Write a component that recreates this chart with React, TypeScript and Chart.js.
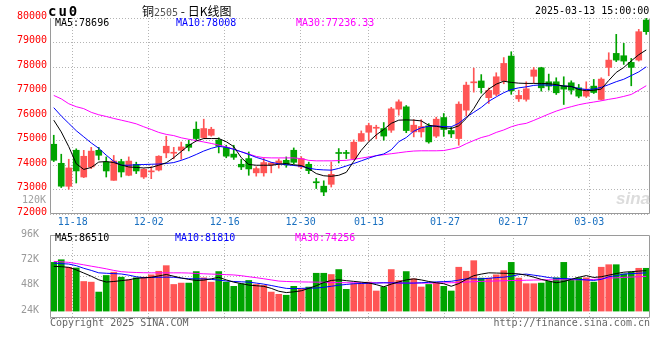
import React, { useEffect, useRef } from "react";
import { Chart, registerables } from "chart.js";

Chart.register(...registerables);

// ---------------- data ----------------
const dates = [
  "11-13","11-14","11-15","11-18","11-19","11-20","11-21","11-22","11-25","11-26",
  "11-27","11-28","11-29","12-02","12-03","12-04","12-05","12-06","12-09","12-10",
  "12-11","12-12","12-13","12-16","12-17","12-18","12-19","12-20","12-23","12-24",
  "12-25","12-26","12-27","12-30","12-31","01-02","01-03","01-06","01-07","01-08",
  "01-09","01-10","01-13","01-14","01-15","01-16","01-17","01-20","01-21","01-22",
  "01-23","01-24","01-27","02-05","02-06","02-07","02-10","02-11","02-12","02-13",
  "02-14","02-17","02-18","02-19","02-20","02-21","02-24","02-25","02-26","02-27",
  "02-28","03-03","03-04","03-05","03-06","03-07","03-10","03-11","03-12","03-13",
];
const tickDates = ["11-18","12-02","12-16","12-30","01-13","01-27","02-17","03-03"];

const opens = [
  74847,74070,73130,74602,73510,73920,74600,74124,73374,74140,
  73580,74025,73510,73720,73795,74493,74480,74602,74847,75460,
  75120,75215,75020,74711,74445,74030,74262,73680,73680,74000,
  74056,74192,74602,73920,74030,73300,73135,73212,74490,74490,
  74262,74970,75337,75500,75488,75420,76279,76374,75351,75352,
  75600,75180,75938,75406,75080,76238,77355,77431,76749,76885,
  77430,78446,76700,76681,77620,77969,77397,77397,77219,77356,
  77151,76810,77219,76674,77983,78555,78460,78187,78282,79918,
];
const highs = [
  75215,74440,74235,74660,74600,74720,74720,74330,74390,74234,
  74330,74115,73850,73940,74380,75175,74720,74935,75015,75760,
  75870,75540,75110,74806,74806,74228,74533,73928,74290,74110,
  74248,74330,74697,74343,74117,73458,73355,74124,74670,74600,
  75024,75392,75706,75624,75733,76354,76660,76428,75856,75850,
  75690,75952,76102,75543,76579,77383,77955,77690,77145,77765,
  78385,78623,77055,77396,77983,77990,77710,77560,77601,77437,
  77288,77397,77492,77560,78582,79332,78964,78351,79536,79990,
];
const lows = [
  74140,73080,73010,73265,73484,73852,74210,73510,73374,73510,
  73560,73650,73450,73442,73757,74295,74250,74234,74575,75011,
  75079,75175,74492,74295,74227,73812,73580,73545,73545,73680,
  73873,73907,74050,73852,73646,73040,72747,73100,74083,74262,
  74213,74970,74984,75065,75010,75331,76033,75318,75147,75140,
  74890,75120,75168,75120,74807,76000,76974,76933,76510,76830,
  77315,76885,76592,76606,77356,77015,77056,76879,76470,76892,
  76742,76756,76919,76647,77642,78220,78105,77233,78242,79332,
];
const closes = [
  74193,73135,73880,73757,74356,74567,74397,73756,74165,73715,
  74160,73756,73825,73750,74357,74766,74510,74737,74720,75080,
  75488,75460,74766,74363,74317,73920,73840,73852,74100,74083,
  74165,74010,74110,74262,73770,73275,72897,73620,74470,74470,
  74930,75284,75610,75516,75181,76293,76578,75406,75625,75570,
  74943,75870,75450,75270,76483,77260,77380,77158,77042,77601,
  78146,77028,76840,77110,77880,77151,77219,76947,77097,77056,
  76810,77097,76960,77506,78282,78282,78242,77983,79441,79441,
];
const ma5 = [
  75830,75350,74750,74050,73820,73900,74120,74140,74100,74000,
  73920,73900,73880,73900,73990,74090,74300,74550,74800,74980,
  75080,75080,75080,74950,74750,74300,74020,73990,73990,73990,
  74030,74060,74010,73980,73850,73650,73560,73540,73580,73700,
  74150,74600,74950,75230,75450,75700,75830,75840,75830,75800,
  75620,75580,75520,75490,75600,75900,76300,76800,77100,77300,
  77420,77370,77340,77330,77330,77330,77320,77280,77220,77210,
  77080,77030,77050,77100,77450,77780,77980,78250,78500,78696,
];
const ma10 = [
  76340,76000,75700,75400,75150,74900,74680,74400,74150,73990,
  73990,74010,74020,74030,74040,74060,74100,74190,74300,74430,
  74570,74680,74760,74720,74640,74540,74430,74310,74220,74110,
  74050,74010,73980,73950,73870,73820,73800,73790,73860,73960,
  74060,74170,74280,74380,74450,74620,74950,75120,75380,75520,
  75580,75590,75570,75560,75700,75950,76150,76350,76600,76780,
  76950,77080,77150,77190,77250,77270,77260,77250,77230,77200,
  77120,77080,77100,77170,77280,77400,77500,77650,77800,78008,
];
const ma30 = [
  76840,76700,76500,76380,76300,76150,76050,75980,75900,75830,
  75760,75680,75560,75450,75330,75250,75200,75110,75050,75000,
  74940,74880,74810,74740,74650,74540,74450,74350,74300,74290,
  74290,74290,74290,74260,74190,74170,74170,74170,74180,74190,
  74230,74280,74330,74380,74420,74460,74500,74540,74570,74580,
  74580,74580,74590,74650,74720,74870,75000,75120,75200,75330,
  75430,75560,75650,75700,75820,75950,76080,76200,76300,76380,
  76460,76520,76570,76620,76680,76730,76800,76880,77050,77236,
];
const volumes = [
  70100,72600,65400,64800,52000,51400,42000,57700,60800,56100,
  53600,55500,56100,58300,61700,67000,49200,50500,50500,61400,
  55500,51400,61400,51400,47400,49900,53000,49200,48300,42000,
  39900,39000,47400,45200,46700,59800,59800,58600,63300,44600,
  49900,49900,51400,43000,46800,63300,53000,61400,54500,46800,
  49200,50800,47400,43000,65500,61700,71700,55200,55200,58300,
  62300,70100,55200,49900,49900,50500,52100,55500,70100,53600,
  55500,55500,51400,65500,67900,67900,59200,60800,64500,64500,
];
const volMa5 = [
  66300,66000,65400,63000,60000,57000,53600,51500,52000,52800,
  53600,55000,55500,56000,57300,58600,57000,55300,54000,53000,
  53300,54500,56000,53500,51400,50000,48600,48000,47400,45500,
  42800,41500,42200,43200,45500,48000,51000,53000,53600,52800,
  52100,51400,50700,49000,47000,49500,51600,53500,54500,53500,
  52000,50800,49900,47500,50000,54000,57500,59000,60200,60000,
  59800,59600,59200,58000,56100,54000,52500,50800,52000,54000,
  56000,57600,55800,56500,58000,59500,60800,61300,61800,62300,
];
const volMa10 = [
  69400,68900,68500,67000,64500,62500,60200,59800,59500,59100,
  58000,56500,55600,55800,56000,56100,56000,55200,54600,54500,
  54500,54000,53300,52500,52000,51700,51400,50500,49500,48200,
  46800,45500,45200,45500,45700,45800,46500,47500,48500,49200,
  49900,50100,50300,50500,50800,50700,50600,50500,50500,50800,
  51200,51600,51900,52200,53300,54500,54500,54500,55000,55700,
  56100,57000,58500,59000,58000,57000,55700,55000,54800,54500,
  54000,53500,53000,54000,56500,57500,59000,59500,59800,60200,
];
const volMa30 = [
  71000,70600,70100,69000,67800,66500,65300,64000,62500,61300,
  60800,60500,60300,60200,60200,60200,60200,60200,60000,59600,
  59300,59000,58800,58500,58200,57500,56500,55600,54600,53500,
  52400,52000,51800,51600,51500,51400,51300,51000,50900,50800,
  50800,50800,50800,50800,50800,50700,50600,50500,50500,50500,
  50500,50600,50700,50800,51000,51500,51800,52100,52300,52500,
  52700,52900,53000,53200,53400,53500,53600,53600,53600,53600,
  53600,53600,54000,54500,55200,55500,55900,56200,56500,56800,
];
const priceMin = 72000;
const priceMax = 80000;
const priceStep = 1000;
const volTickValues = [24000, 48000, 72000, 96000];
const volBase = 24000;
const volTop = 96000;
const volBottom = 17455;

// ---------------- styles ----------------
const RED = "#ff5555";
const GREEN = "#00a300";
const GRID = "#b4b4b4";
const FRAME = "#9a9a9a";
const BLUE_TXT = "#1a70c0";
const MONO = '"DejaVu Sans Mono", "Liberation Mono", monospace';

const N = dates.length;
const labelIdx = tickDates.map((d) => dates.indexOf(d));
const slotX = (i: number) => i + 0.5;
// Sina puts its date grid on an (N-1)-step ruler while candles fill N slots
const tickX = (k: number) => (k * N) / (N - 1);

const isUp = (i: number) => closes[i] >= opens[i];
const candleColors = closes.map((_, i) => (isUp(i) ? RED : GREEN));

const framePlugin = {
  id: "frame",
  afterDatasetsDraw(chart: any, _args: any, opts: any) {
    const { ctx, chartArea: a } = chart;
    const l = Math.round(a.left) + 0.5;
    const r = Math.round(a.right) - 0.5;
    const t = Math.round(a.top) + 0.5;
    const b = Math.round(a.bottom) - 0.5;
    ctx.save();
    ctx.strokeStyle = opts.color || FRAME;
    ctx.lineWidth = 1;
    ctx.beginPath();
    const sides: string[] = opts.sides || [];
    if (sides.includes("left")) { ctx.moveTo(l, t); ctx.lineTo(l, b); }
    if (sides.includes("right")) { ctx.moveTo(r, t); ctx.lineTo(r, b); }
    if (sides.includes("top")) { ctx.moveTo(l, t); ctx.lineTo(r, t); }
    if (sides.includes("bottom")) { ctx.moveTo(l, b); ctx.lineTo(r, b); }
    ctx.stroke();
    ctx.restore();
  },
};

function xScale(showLabels: boolean) {
  return {
    type: "linear",
    min: 0,
    max: N,
    offset: false,
    afterBuildTicks: (s: any) => {
      s.ticks = labelIdx.map((k) => ({ value: tickX(k) }));
    },
    afterFit: (s: any) => {
      s.height = showLabels ? 18 : 0;
    },
    grid: { color: GRID, drawTicks: false, offset: false, lineWidth: 1 },
    border: { display: false, dash: [1, 2] },
    ticks: {
      display: showLabels,
      autoSkip: false,
      maxRotation: 0,
      padding: 2,
      color: BLUE_TXT,
      font: { family: MONO, size: 10 },
      callback: (_v: any, idx: number) => dates[labelIdx[idx]],
    },
  };
}

const lineDs = (label: string, arr: number[], color: string) => ({
  type: "line",
  label,
  data: arr.map((v, i) => ({ x: slotX(i), y: v })),
  borderColor: color,
  borderWidth: 1,
  pointRadius: 0,
  tension: 0,
  order: 0,
});

function PriceChart() {
  const ref = useRef<HTMLCanvasElement | null>(null);
  useEffect(() => {
    if (!ref.current) return;
    const chart = new Chart(ref.current, {
      type: "bar",
      data: {
        datasets: [
          lineDs("MA5", ma5, "#000000"),
          lineDs("MA10", ma10, "#0000ff"),
          lineDs("MA30", ma30, "#ff00ff"),
          {
            type: "bar",
            label: "body",
            data: opens.map((o, i) => ({ x: slotX(i), y: [o, closes[i]] })),
            backgroundColor: candleColors,
            borderWidth: 0,
            barThickness: 6,
            minBarLength: 1,
            grouped: false,
            order: 1,
          },
          {
            type: "bar",
            label: "wick",
            data: lows.map((l, i) => ({ x: slotX(i), y: [l, highs[i]] })),
            backgroundColor: candleColors,
            borderWidth: 0,
            barThickness: 1,
            grouped: false,
            order: 2,
          },
        ] as any,
      },
      options: {
        responsive: false,
        animation: false,
        devicePixelRatio: 1,
        events: [],
        layout: { padding: { top: 18, right: 10, left: 0, bottom: 0 } },
        plugins: {
          legend: { display: false },
          tooltip: { enabled: false },
          frame: { sides: ["left", "right", "bottom"], color: FRAME },
        } as any,
        scales: {
          x: xScale(true),
          y: {
            type: "linear",
            min: priceMin,
            max: priceMax,
            afterFit: (s: any) => {
              s.width = 50;
            },
            grid: { color: GRID, drawTicks: false, lineWidth: 1 },
            border: { display: false, dash: [1, 2] },
            ticks: {
              stepSize: priceStep,
              color: "#ff0000",
              padding: 3,
              labelOffset: -2,
              font: { family: MONO, size: 10 },
              callback: (v: any) => String(v),
            },
          },
        } as any,
      },
      plugins: [framePlugin],
    } as any);
    return () => chart.destroy();
  }, []);
  return <canvas ref={ref} width={660} height={232} style={{ position: "absolute", left: 0, top: 0 }} />;
}

function VolumeChart() {
  const ref = useRef<HTMLCanvasElement | null>(null);
  useEffect(() => {
    if (!ref.current) return;
    const chart = new Chart(ref.current, {
      type: "bar",
      data: {
        datasets: [
          lineDs("MA5", volMa5, "#000000"),
          lineDs("MA10", volMa10, "#0000ff"),
          lineDs("MA30", volMa30, "#ff00ff"),
          {
            type: "bar",
            label: "volume",
            data: volumes.map((v, i) => ({ x: slotX(i), y: [volBase, v] })),
            backgroundColor: candleColors,
            borderWidth: 0,
            barThickness: 6,
            grouped: false,
            order: 1,
          },
        ] as any,
      },
      options: {
        responsive: false,
        animation: false,
        devicePixelRatio: 1,
        events: [],
        layout: { padding: { top: 8, right: 10, left: 0, bottom: 18 } },
        plugins: {
          legend: { display: false },
          tooltip: { enabled: false },
          frame: { sides: ["left", "right", "bottom", "top"], color: FRAME },
        } as any,
        scales: {
          x: xScale(false),
          y: {
            type: "linear",
            min: volBottom,
            max: volTop,
            afterBuildTicks: (s: any) => {
              s.ticks = volTickValues.map((v) => ({ value: v }));
            },
            afterFit: (s: any) => {
              s.width = 50;
            },
            grid: { display: false },
            border: { display: false },
            ticks: {
              color: "#999999",
              padding: 3,
              labelOffset: -1,
              font: { family: MONO, size: 10 },
              callback: (v: any) => `${Math.round(Number(v) / 1000)}K`,
            },
          },
          yg: {
            type: "linear",
            position: "right",
            min: 0,
            max: 4,
            afterFit: (s: any) => {
              s.width = 0;
            },
            grid: { color: GRID, drawTicks: false, lineWidth: 1 },
            border: { display: false, dash: [1, 2] },
            ticks: { display: false, stepSize: 1 },
          },
        } as any,
      },
      plugins: [framePlugin],
    } as any);
    return () => chart.destroy();
  }, []);
  return <canvas ref={ref} width={660} height={110} style={{ position: "absolute", left: 0, top: 226 }} />;
}

function Txt(props: { left?: number; right?: number; top: number; color?: string; size?: number; bold?: boolean; family?: string; spacing?: number; children: any }) {
  const { left, right, top, color = "#000", size = 10, bold = false, family = MONO, spacing = 0, children } = props;
  return (
    <div
      style={{
        position: "absolute",
        left,
        right,
        top,
        color,
        fontSize: size,
        fontWeight: bold ? 700 : 400,
        fontFamily: family,
        letterSpacing: spacing,
        lineHeight: "12px",
        whiteSpace: "nowrap",
        pointerEvents: "none",
      }}
    >
      {children}
    </div>
  );
}

const CJK = '"Noto Sans CJK SC", "Noto Sans", sans-serif';

export default function App() {
  return (
    <div style={{ position: "absolute", left: 0, top: 0, width: 660, height: 360, background: "#fff", overflow: "hidden" }}>
      <PriceChart />
      <VolumeChart />
      <Txt left={48} top={5} size={14} bold spacing={2}>cu0</Txt>
      <div style={{ position: "absolute", left: 142, top: 4, fontFamily: CJK, fontSize: 12, lineHeight: "14px", whiteSpace: "nowrap", color: "#000" }}>
        铜<span style={{ fontFamily: MONO, fontSize: 10, color: "#555" }}>2505</span> - 日K线图
      </div>
      <Txt left={535} top={5}>2025-03-13 15:00:00</Txt>
      <Txt left={55} top={17}>MA5:78696</Txt>
      <Txt left={176} top={17} color="#0000ff">MA10:78008</Txt>
      <Txt left={296} top={17} color="#ff00ff">MA30:77236.33</Txt>
      <Txt left={22} top={194} color="#a0a0a0">120K</Txt>
      <div style={{ position: "absolute", left: 616, top: 190, fontFamily: '"Liberation Sans", sans-serif', fontSize: 17, fontStyle: "italic", fontWeight: 700, color: "#dcdcdc", lineHeight: "18px" }}>sina</div>
      <Txt left={55} top={232}>MA5:86510</Txt>
      <Txt left={175} top={232} color="#0000ff">MA10:81810</Txt>
      <Txt left={295} top={232} color="#ff00ff">MA30:74256</Txt>
      <Txt left={50} top={317} color="#666">Copyright 2025 SINA.COM</Txt>
      <Txt right={10} top={317} color="#666">http://finance.sina.com.cn</Txt>
    </div>
  );
}
